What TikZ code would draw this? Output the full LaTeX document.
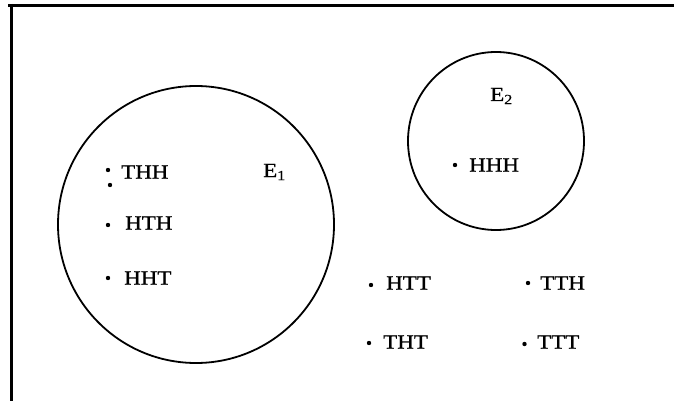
\documentclass[tikz,border=0pt]{standalone}
\usepackage{fontspec}
\setmainfont{Liberation Serif}[FakeStretch=1.15,FakeBold=0.8]
\begin{document}
\begin{tikzpicture}[x=1pt,y=-1pt,
  frame/.style={line width=3.2pt},
  setline/.style={line width=1.8pt},
  pt/.style={circle,fill,inner sep=0pt,minimum size=4.4pt},
  lbl/.style={anchor=west,inner sep=0pt,font=\fontsize{20}{20}\selectfont},
  evt/.style={anchor=base west,inner sep=0pt,font=\fontsize{20}{20}\selectfont}]
\useasboundingbox (0,0) rectangle (674,401);
% frame
\coordinate (tl) at (11.5,4);
\coordinate (tr) at (674,5.5);
\coordinate (bl) at (11.5,401);
\draw[frame] (8,5.5) -- (tr);
\draw[frame] (tl) -- (bl);
% sets
\draw[setline] (196,224.5) ellipse [x radius=138, y radius=138.5];
\draw[setline] (496,141) ellipse [x radius=88, y radius=89];
\node[evt] (E1) at (263,177) {E\textsubscript{1}};
\node[evt] (E2) at (490,101) {E\textsubscript{2}};
% outcomes
\node[pt] (dTHH) at (108,170) {};
\node[pt] (dx) at (110,185) {};
\node[lbl] (THH) at (121,172) {THH};
\node[pt] (dHTH) at (108,225) {};
\node[lbl] (HTH) at (125,223) {HTH};
\node[pt] (dHHT) at (108,278) {};
\node[lbl] (HHT) at (124,278) {HHT};
\node[pt] (dHHH) at (455,165) {};
\node[lbl] (HHH) at (469,165) {HHH};
\node[pt] (dHTT) at (371,285) {};
\node[lbl] (HTT) at (386,283) {HTT};
\node[pt] (dTTH) at (528,283) {};
\node[lbl] (TTH) at (540,283) {TTH};
\node[pt] (dTHT) at (369,343) {};
\node[lbl] (THT) at (383,342) {THT};
\node[pt] (dTTT) at (524.5,344) {};
\node[lbl] (TTT) at (537,342) {TTT};
\end{tikzpicture}
\end{document}
